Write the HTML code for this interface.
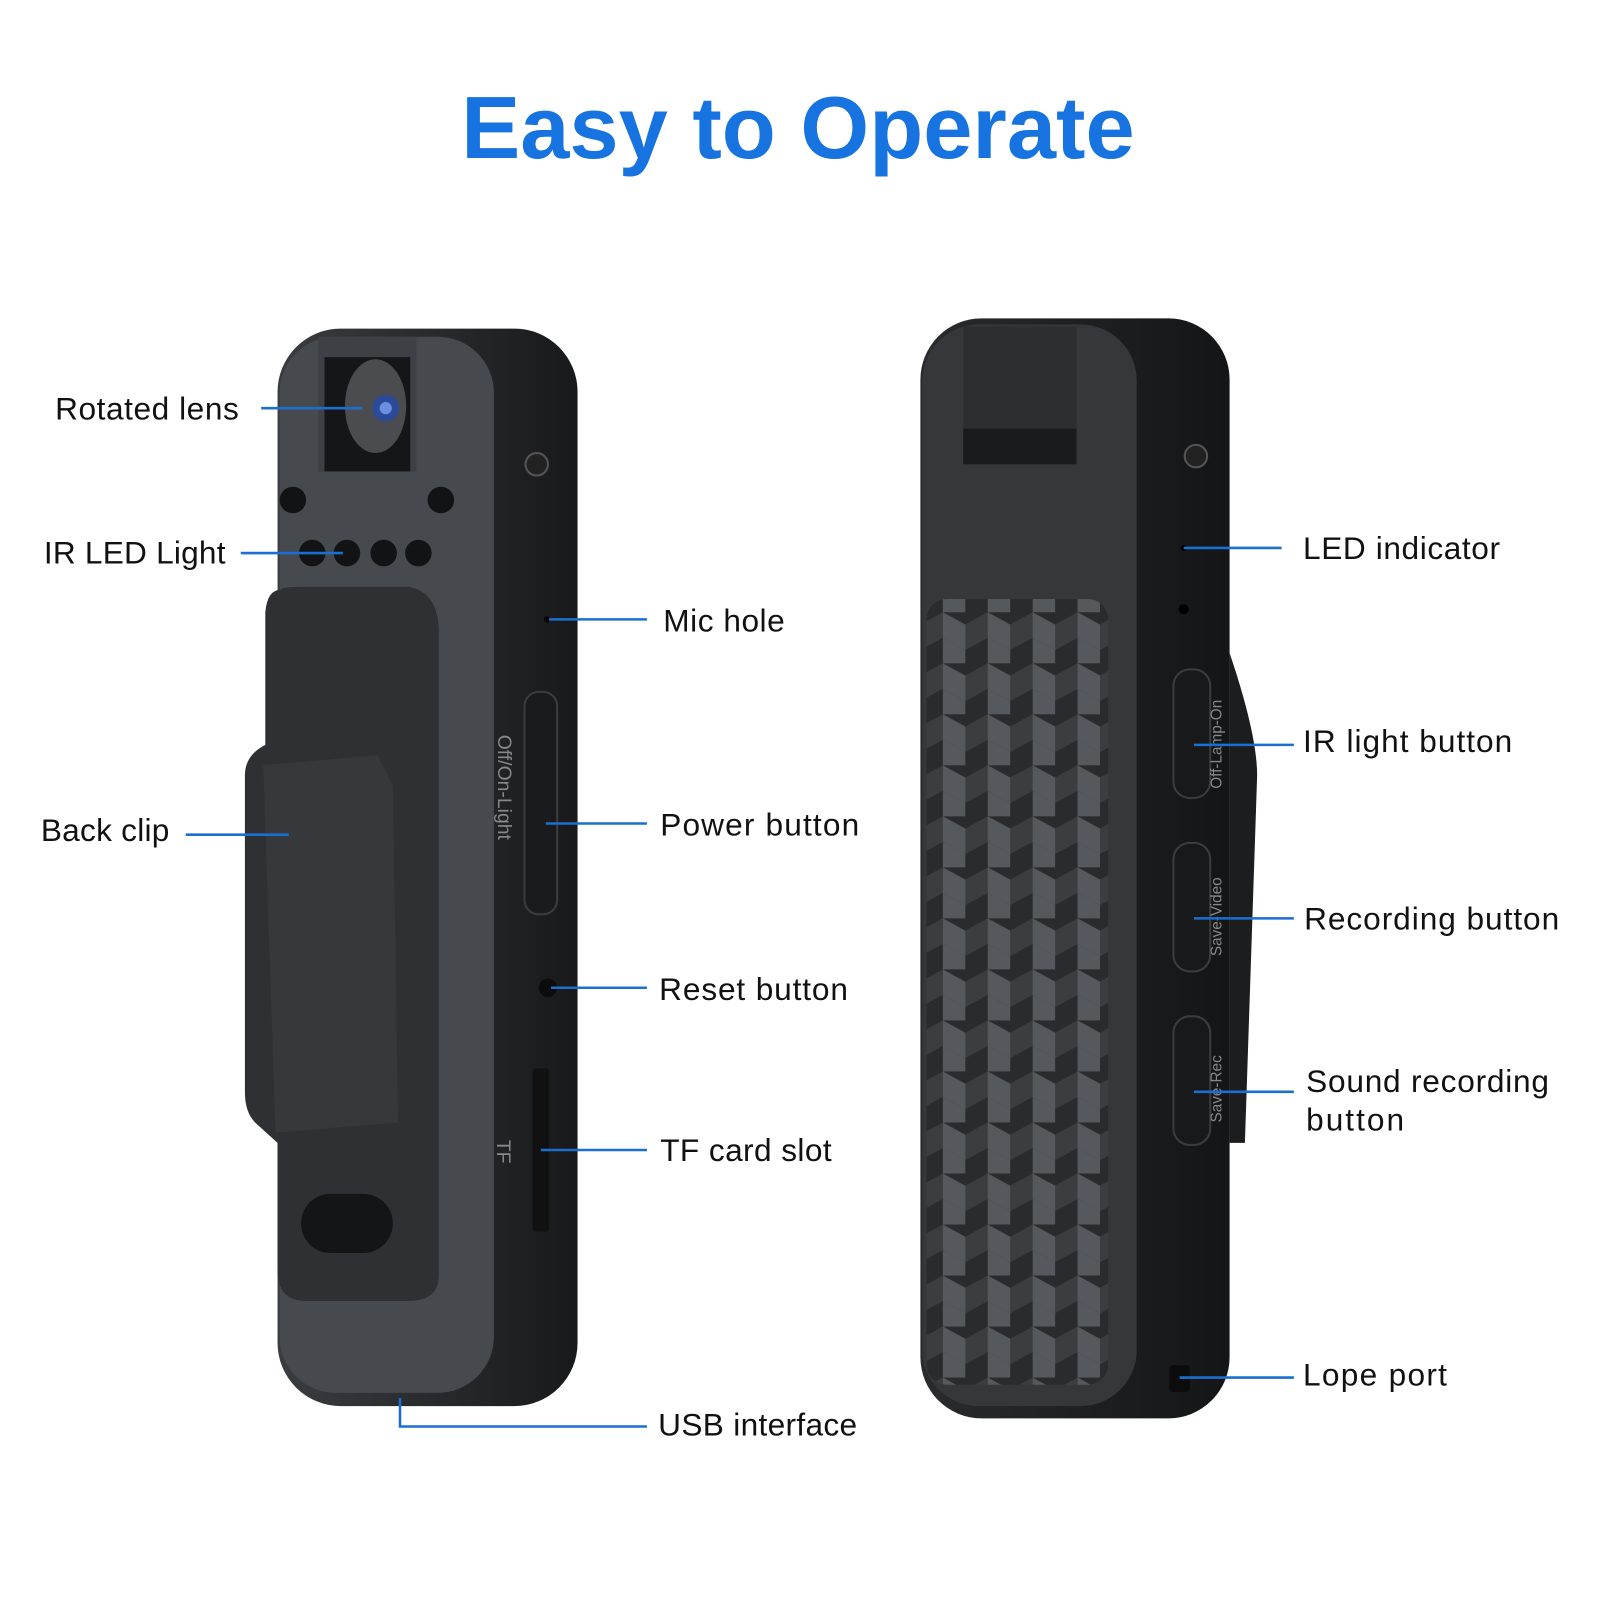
<!DOCTYPE html>
<html><head><meta charset="utf-8"><style>
html,body{margin:0;padding:0;background:#fff}
svg{display:block}
text{font-family:"Liberation Sans",sans-serif}
</style></head><body>
<svg width="1600" height="1600" viewBox="0 0 1568 1568" xmlns="http://www.w3.org/2000/svg">
<defs>
<pattern id="cube" width="44" height="50" patternUnits="userSpaceOnUse">
<rect width="44" height="50" fill="#2a2b2f"/>
<polygon points="0,0 22,12 22,37 0,25" fill="#55585d"/>
<polygon points="22,12 44,0 44,25 22,37" fill="#3b3d41"/>
<polygon points="0,25 22,37 22,62 0,50" fill="#55585d"/>
</pattern>
<linearGradient id="sideL" x1="0" x2="1"><stop offset="0" stop-color="#3a3c40"/><stop offset="1" stop-color="#18191b"/></linearGradient>
<linearGradient id="sideR" x1="0" x2="1"><stop offset="0" stop-color="#2a2b2e"/><stop offset="1" stop-color="#141516"/></linearGradient>
</defs>
<text x="782" y="155" text-anchor="middle" font-size="86" font-weight="bold" fill="#1673e0" textLength="660" lengthAdjust="spacingAndGlyphs">Easy to Operate</text>

<!-- Left device -->
<rect x="272" y="322" width="294" height="1056" rx="62" fill="url(#sideL)"/>
<rect x="274" y="330" width="210" height="1035" rx="55" fill="#46494e"/>
<rect x="312" y="330" width="96" height="132" fill="#3e4045"/>
<rect x="318" y="350" width="84" height="112" fill="#151617"/>
<ellipse cx="368" cy="398" rx="30" ry="46" fill="#4a4c50"/>
<circle cx="378" cy="400" r="13" fill="#2c4a9a"/><circle cx="378" cy="400" r="6" fill="#6b8fe0"/>
<g fill="#121314">
<circle cx="287" cy="490" r="13"/><circle cx="432" cy="490" r="13"/>
<circle cx="306" cy="542" r="13"/><circle cx="340" cy="542" r="13"/><circle cx="376" cy="542" r="13"/><circle cx="410" cy="542" r="13"/>
</g>
<circle cx="526" cy="455" r="11" fill="#222" stroke="#555" stroke-width="2"/>
<circle cx="536" cy="607" r="3" fill="#000"/>
<path d="M275 578 Q275 575 300 575 L400 575 Q430 580 430 620 L430 1250 Q430 1275 400 1275 L300 1275 Q272 1275 272 1245 L272 1120 L250 1100 Q240 1090 240 1070 L240 760 Q240 740 260 730 L260 600 Q262 578 275 578Z" fill="#2e3034"/>
<path d="M258 750 L370 740 L385 770 L390 1100 L270 1110 Z" fill="#36383c"/>
<rect x="295" y="1170" width="90" height="58" rx="29" fill="#141516"/>
<rect x="514" y="678" width="32" height="218" rx="14" fill="#1a1b1d" stroke="#3a3c40" stroke-width="2"/>
<text transform="translate(488,720) rotate(90)" font-size="19" fill="#888">Off/On-Light</text>
<circle cx="537" cy="968" r="9" fill="#0c0c0d"/>
<rect x="522" y="1047" width="16" height="160" rx="3" fill="#111"/>
<text transform="translate(487,1117) rotate(90)" font-size="19" fill="#888">TF</text>

<!-- Right device -->
<rect x="902" y="312" width="303" height="1078" rx="60" fill="url(#sideR)"/>
<rect x="904" y="318" width="210" height="1060" rx="55" fill="#35373b"/>
<rect x="944" y="320" width="111" height="135" fill="#2c2e32"/>
<rect x="944" y="420" width="111" height="35" fill="#1a1b1d"/>
<rect x="908" y="587" width="178" height="770" rx="20" fill="url(#cube)"/>
<circle cx="1172" cy="447" r="11" fill="#222" stroke="#555" stroke-width="2"/>
<circle cx="1160" cy="537" r="3" fill="#000"/>
<circle cx="1160" cy="597" r="5" fill="#000"/>
<path d="M1205 640 Q1232 720 1232 760 L1220 1120 L1205 1120 Z" fill="#1c1d1f"/>
<rect x="1150" y="656" width="36" height="126" rx="16" fill="#18191b" stroke="#3a3c40" stroke-width="2"/>
<rect x="1150" y="826" width="36" height="126" rx="16" fill="#18191b" stroke="#3a3c40" stroke-width="2"/>
<rect x="1150" y="996" width="36" height="126" rx="16" fill="#18191b" stroke="#3a3c40" stroke-width="2"/>
<g font-size="15" fill="#888">
<text transform="translate(1197,773) rotate(-90)">Off-Lamp-On</text>
<text transform="translate(1197,937) rotate(-90)">Save-Video</text>
<text transform="translate(1197,1100) rotate(-90)">Save-Rec</text>
</g>
<rect x="1146" y="1338" width="20" height="26" rx="3" fill="#0c0c0d"/>

<!-- connectors -->
<g stroke="#1a6fd0" stroke-width="2.5" fill="none">
<line x1="256" y1="400" x2="355" y2="400"/>
<line x1="236" y1="542" x2="336" y2="542"/>
<line x1="182" y1="818" x2="283" y2="818"/>
<line x1="538" y1="607" x2="634" y2="607"/>
<line x1="535" y1="807" x2="634" y2="807"/>
<line x1="540" y1="968" x2="634" y2="968"/>
<line x1="530" y1="1127" x2="634" y2="1127"/>
<polyline points="392,1370 392,1398 634,1398"/>
<line x1="1160" y1="537" x2="1256" y2="537"/>
<line x1="1170" y1="730" x2="1268" y2="730"/>
<line x1="1170" y1="900" x2="1268" y2="900"/>
<line x1="1170" y1="1070" x2="1268" y2="1070"/>
<line x1="1156" y1="1350" x2="1268" y2="1350"/>
</g>
<g font-size="31" fill="#111">
<text x="54" y="411" textLength="180">Rotated lens</text>
<text x="43" y="552" textLength="178">IR LED Light</text>
<text x="40" y="824" textLength="126">Back clip</text>
<text x="650" y="619" textLength="119">Mic hole</text>
<text x="647" y="819" textLength="195">Power button</text>
<text x="646" y="980" textLength="185">Reset button</text>
<text x="647" y="1138" textLength="168">TF card slot</text>
<text x="645" y="1407" textLength="195">USB interface</text>
<text x="1277" y="548" textLength="193">LED indicator</text>
<text x="1277" y="737" textLength="205">IR light button</text>
<text x="1278" y="911" textLength="250">Recording button</text>
<text x="1280" y="1070" textLength="238">Sound recording</text>
<text x="1280" y="1108" textLength="96">button</text>
<text x="1277" y="1358" textLength="141">Lope port</text>
</g>
</svg>
</body></html>
